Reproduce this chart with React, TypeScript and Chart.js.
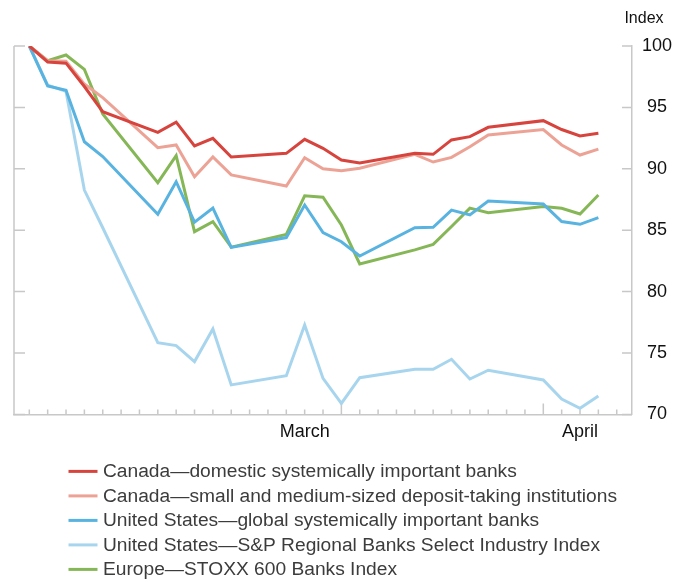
import React, { useEffect, useRef } from 'react';
import { Chart, registerables } from 'chart.js';

Chart.register(...registerables);

// Trading days, counted in calendar days from the first observation
const days = [0, 1, 2, 3, 4, 7, 8, 9, 10, 11, 14, 15, 16, 17, 18, 21, 22, 23, 24, 25, 28, 29, 30, 31];

const canadaDSIB = [100, 98.7, 98.6, 96.7, 94.65, 92.97, 93.8, 91.86, 92.48, 90.96, 91.26, 92.4, 91.67, 90.72, 90.47, 91.26, 91.18, 92.35, 92.62, 93.38, 93.92, 93.2, 92.67, 92.89];
const canadaSMSB = [100, 98.8, 98.75, 96.9, 95.8, 91.72, 91.94, 89.36, 90.96, 89.5, 88.6, 90.9, 90.0, 89.85, 90.04, 91.18, 90.55, 90.93, 91.8, 92.75, 93.2, 91.94, 91.12, 91.6];
const usGSIB = [100, 96.75, 96.4, 92.2, 91.0, 86.3, 88.95, 85.65, 86.8, 83.6, 84.4, 87.05, 84.8, 84.06, 82.9, 85.2, 85.24, 86.64, 86.24, 87.38, 87.13, 85.7, 85.48, 86.02];
const usRegional = [100, 96.82, 96.3, 88.27, 85.2, 75.84, 75.6, 74.3, 76.95, 72.4, 73.15, 77.28, 72.93, 70.9, 72.99, 73.67, 73.67, 74.49, 72.88, 73.6, 72.8, 71.25, 70.5, 71.5];
const europe = [100, 98.8, 99.27, 98.1, 94.46, 88.87, 91.07, 84.88, 85.7, 83.62, 84.65, 87.8, 87.68, 85.42, 82.25, 83.4, 83.85, 85.3, 86.8, 86.43, 86.92, 86.78, 86.32, 87.87];

const seriesLabels = [
  'Canada\u2014domestic systemically important banks',
  'Canada\u2014small and medium-sized deposit-taking institutions',
  'United States\u2014global systemically important banks',
  'United States\u2014S&P Regional Banks Select Industry Index',
  'Europe\u2014STOXX 600 Banks Index',
];
const seriesColors = ['#d7443d', '#eca396', '#58b3e0', '#a8d5ee', '#86b757'];

const xTickValues = [15, 30];
const xTickLabels = ['March', 'April'];
const xMinorTicks = [0, 1, 2, 3, 4, 5, 6, 7, 8, 9, 10, 11, 12, 13, 14, 15, 16, 17, 18, 19, 20, 21, 22, 23, 24, 25, 26, 27, 28, 29, 30, 31, 32];
const xLongTicks = [17, 28];
const yTickValues = [70, 75, 80, 85, 90, 95, 100];
const yAxisTitle = 'Index';

const FONT = '"Liberation Sans", Arial, Helvetica, sans-serif';
const AXIS = '#c8c8c8';

const decorPlugin = {
  id: 'decor',
  beforeDatasetsDraw(chart: any) {
    const { ctx, chartArea: a, scales } = chart;
    const x = scales.x;
    const y = scales.y;
    ctx.save();
    ctx.strokeStyle = AXIS;
    ctx.lineWidth = 1.5;
    ctx.beginPath();
    ctx.moveTo(a.left, a.top);
    ctx.lineTo(a.left, a.bottom);
    yTickValues.forEach((v) => {
      const py = y.getPixelForValue(v);
      ctx.moveTo(a.left, py);
      ctx.lineTo(a.left + 11, py);
      ctx.moveTo(a.right - 10, py);
      ctx.lineTo(a.right, py);
    });
    xMinorTicks.forEach((d) => {
      const px = x.getPixelForValue(d);
      const len = xLongTicks.includes(d) ? 11 : 5;
      ctx.moveTo(px, a.bottom);
      ctx.lineTo(px, a.bottom - len);
    });
    ctx.stroke();
    ctx.restore();
  },
  afterDraw(chart: any) {
    const { ctx, chartArea: a } = chart;
    ctx.save();
    ctx.fillStyle = '#111';
    ctx.font = `16px ${FONT}`;
    ctx.textAlign = 'center';
    ctx.textBaseline = 'middle';
    ctx.fillText(yAxisTitle, a.right + 12, a.top - 27);

    const rowGap = 24.5;
    const top = a.bottom + 57;
    chart.data.datasets.forEach((ds: any, i: number) => {
      const cy = top + i * rowGap;
      ctx.strokeStyle = ds.borderColor;
      ctx.lineWidth = 3;
      ctx.beginPath();
      ctx.moveTo(68.5, cy);
      ctx.lineTo(97.5, cy);
      ctx.stroke();
      ctx.fillStyle = '#3c3c3c';
      ctx.font = `19.2px ${FONT}`;
      ctx.textAlign = 'left';
      ctx.textBaseline = 'middle';
      ctx.fillText(ds.label, 103, cy + 0.5);
    });
    ctx.restore();
  },
};

export default function App() {
  const ref = useRef<HTMLCanvasElement | null>(null);

  useEffect(() => {
    if (!ref.current) return;
    const allSeries = [canadaDSIB, canadaSMSB, usGSIB, usRegional, europe];
    const chart = new Chart(ref.current, {
      type: 'line',
      data: {
        datasets: allSeries.map((s, i) => ({
          label: seriesLabels[i],
          data: days.map((d, j) => ({ x: d, y: s[j] })),
          borderColor: seriesColors[i],
          backgroundColor: seriesColors[i],
          borderWidth: 3,
          pointRadius: 0,
          tension: 0,
          fill: false,
        })),
      },
      options: {
        animation: false,
        responsive: true,
        maintainAspectRatio: false,
        layout: { padding: { left: 14, right: 5, top: 46, bottom: 130 } },
        plugins: { legend: { display: false }, tooltip: { enabled: false } },
        scales: {
          x: {
            type: 'linear',
            min: -0.834,
            max: 32.83,
            grid: { display: true, drawOnChartArea: false, drawTicks: false },
            border: { display: true, color: AXIS, width: 1.5 },
            afterBuildTicks: (s: any) => {
              s.ticks = xTickValues.map((v) => ({ value: v }));
            },
            ticks: {
              autoSkip: false,
              maxRotation: 0,
              padding: 7,
              color: '#111',
              font: { size: 18, family: FONT },
              callback: (_v: any, idx: number) => xTickLabels[idx],
            },
          },
          y: {
            position: 'right',
            min: 70,
            max: 100,
            afterBuildTicks: (s: any) => {
              s.ticks = yTickValues.map((v) => ({ value: v }));
            },
            grid: { display: true, drawOnChartArea: false, drawTicks: false },
            border: { display: true, color: AXIS, width: 1.5 },
            ticks: {
              padding: 10,
              crossAlign: 'center',
              color: '#111',
              font: { size: 18, family: FONT },
            },
          },
        },
      },
      plugins: [decorPlugin],
    } as any);
    return () => chart.destroy();
  }, []);

  return (
    <div style={{ position: 'fixed', left: 0, top: 0, width: 687, height: 580, background: '#fff' }}>
      <canvas ref={ref} />
    </div>
  );
}
